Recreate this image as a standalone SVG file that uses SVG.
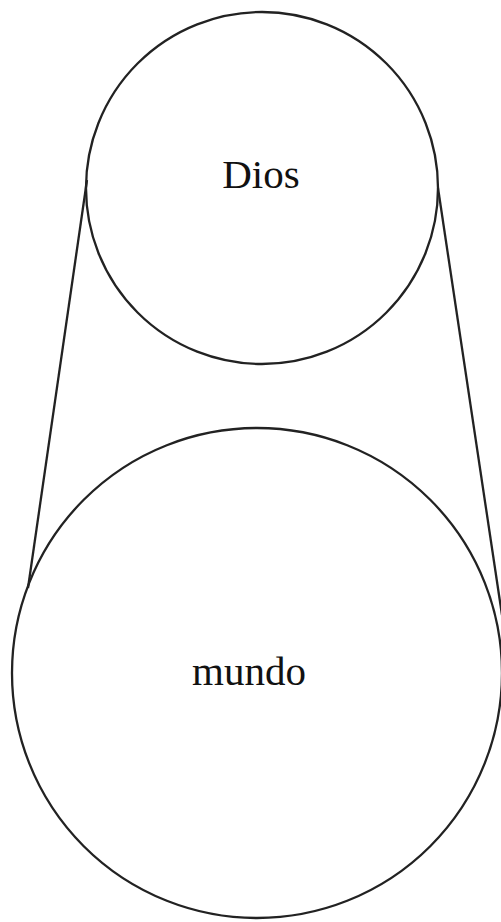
<svg xmlns="http://www.w3.org/2000/svg" width="501" height="922" viewBox="0 0 501 922">
<style>
.c{fill:none;stroke:#222;stroke-width:2.3}
.t{font-family:"Liberation Serif",serif;font-size:41px;fill:#111;text-anchor:middle}
</style>
<rect width="501" height="922" fill="#fff"/>
<g id="connectors">
<line class="c" x1="87" y1="180" x2="28" y2="588"/>
<line class="c" x1="438" y1="188" x2="502" y2="615"/>
</g>
<g id="dios">
<circle class="c" cx="262" cy="188" r="176"/>
<text class="t" x="261" y="188">Dios</text>
</g>
<g id="mundo">
<circle class="c" cx="257" cy="673" r="245"/>
<text class="t" x="249" y="685" font-size="42">mundo</text>
</g>
</svg>
